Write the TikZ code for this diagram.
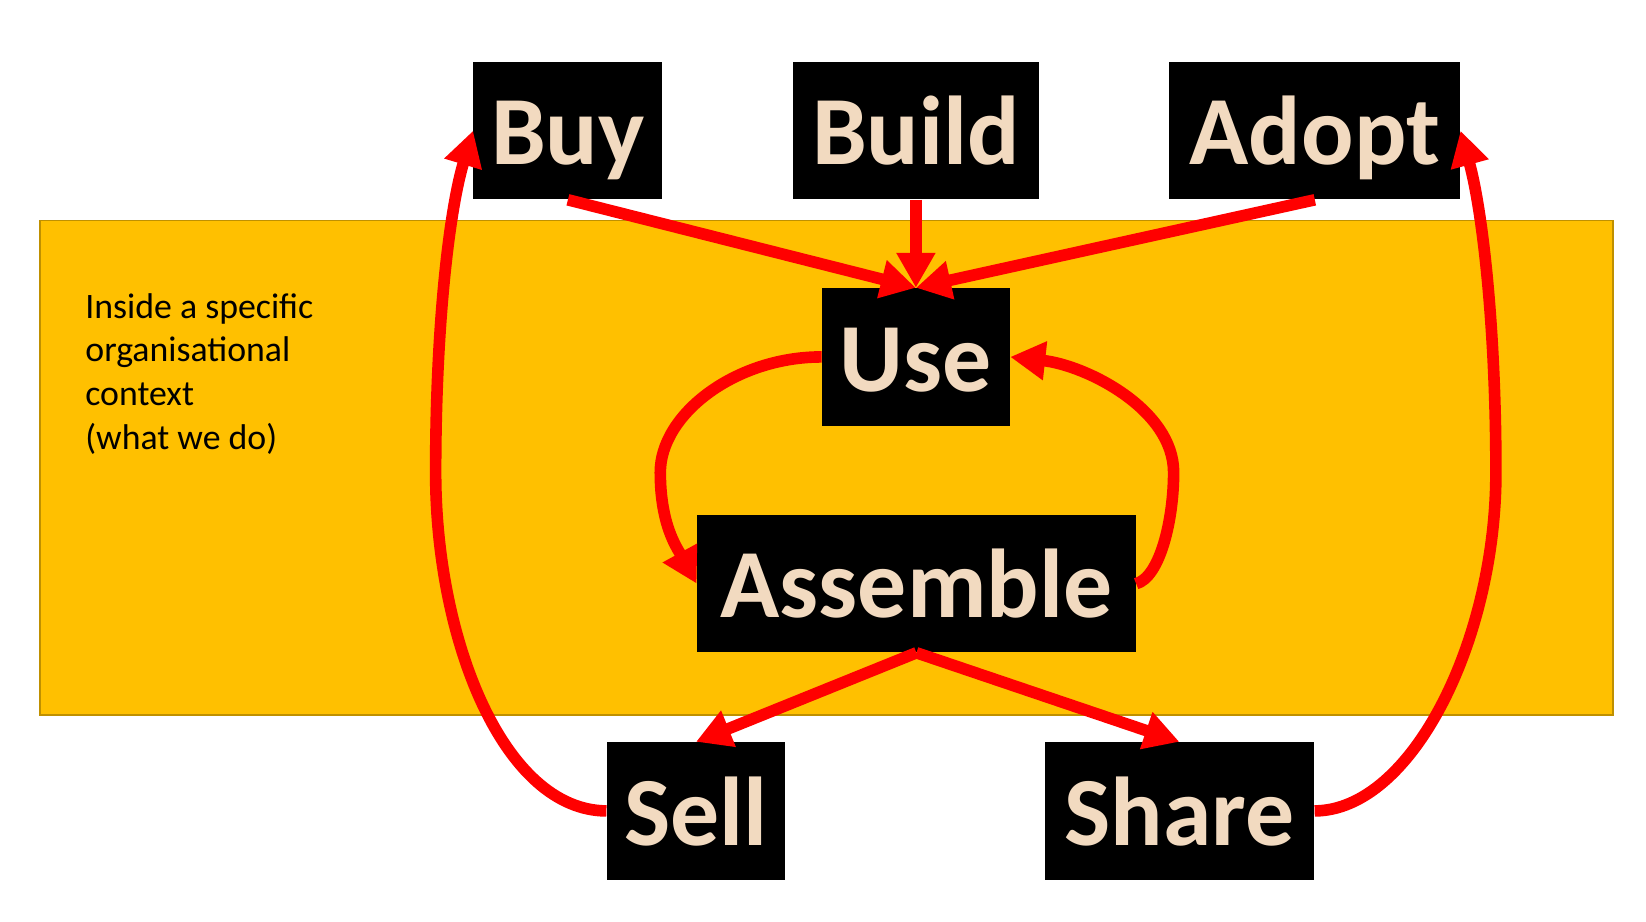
\documentclass[tikz,border=0pt]{standalone}
\usepackage{fontspec}
\setmainfont{Carlito}
\usetikzlibrary{arrows.meta,calc}
\definecolor{boxtext}{RGB}{242,218,192}
\definecolor{ctxfill}{RGB}{255,192,0}
\definecolor{ctxline}{RGB}{191,144,0}
\definecolor{arrred}{RGB}{255,0,0}
\begin{document}
\begin{tikzpicture}[x=0.02cm,y=-0.02cm,
  stage/.style={fill=black, text=boxtext, inner sep=0pt,
    font=\fontsize{53}{60}\selectfont\bfseries,
    text height=40pt, text depth=3pt, minimum height=2.62cm},
  arr/.style={draw=arrred, line width=6.3pt,
    -{Triangle[length=19pt,width=20pt]}},
  ctxbox/.style={fill=ctxfill, draw=ctxline, line width=0.9pt, inner sep=0pt},
  ctxlabel/.style={inner sep=0pt, align=left, anchor=north west,
    font=\fontsize{19.4}{23.8}\selectfont}
]
\useasboundingbox (0,0) rectangle (1568,877.4);
\node[ctxbox, minimum width=29.98cm, minimum height=9.42cm] (ctx) at (787.5,445.5) {};
\node[ctxlabel] (lbl) at (81,279) {Inside a specific\\organisational\\context\\(what we do)};

\node[stage, minimum width=3.6cm]  (Buy)      at (541,124.5)   {Buy};
\node[stage, minimum width=4.7cm]  (Build)    at (872.5,124.5) {Build};
\node[stage, minimum width=5.54cm] (Adopt)    at (1252.5,124.5){Adopt};
\node[stage, minimum width=3.58cm] (Use)      at (872.5,340)   {Use};
\node[stage, minimum width=8.36cm] (Assemble) at (873,556)     {Assemble};
\node[stage, minimum width=3.4cm]  (Sell)     at (663,772.5)   {Sell};
\node[stage, minimum width=5.14cm] (Share)    at (1123.5,772.5){Share};

\draw[arr] (Buy.south) -- (Use.north);
\draw[arr] (Build.south) -- (Use.north);
\draw[arr] (Adopt.south) -- (Use.north);

\draw[arr] (Use.west) .. controls (700,340) and (629,395) .. (629,450)
  .. controls (629,500) and (645,522) .. (Assemble.west);
\draw[arr] (Assemble.east) .. controls (1105,550) and (1118,495) .. (1118,450)
  .. controls (1118,390) and (1035,348) .. (Use.east);

\draw[arr] (Assemble.south) -- (Sell.north);
\draw[arr] (Assemble.south) -- (Share.north);

\draw[arr] (Sell.west) .. controls (480,772) and (415,610) .. (415,450)
  .. controls (415,310) and (428,200) .. (Buy.west);
\draw[arr] (Share.east) .. controls (1345,772) and (1425,610) .. (1425,450)
  .. controls (1425,310) and (1412,200) .. (Adopt.east);
\end{tikzpicture}
\end{document}
